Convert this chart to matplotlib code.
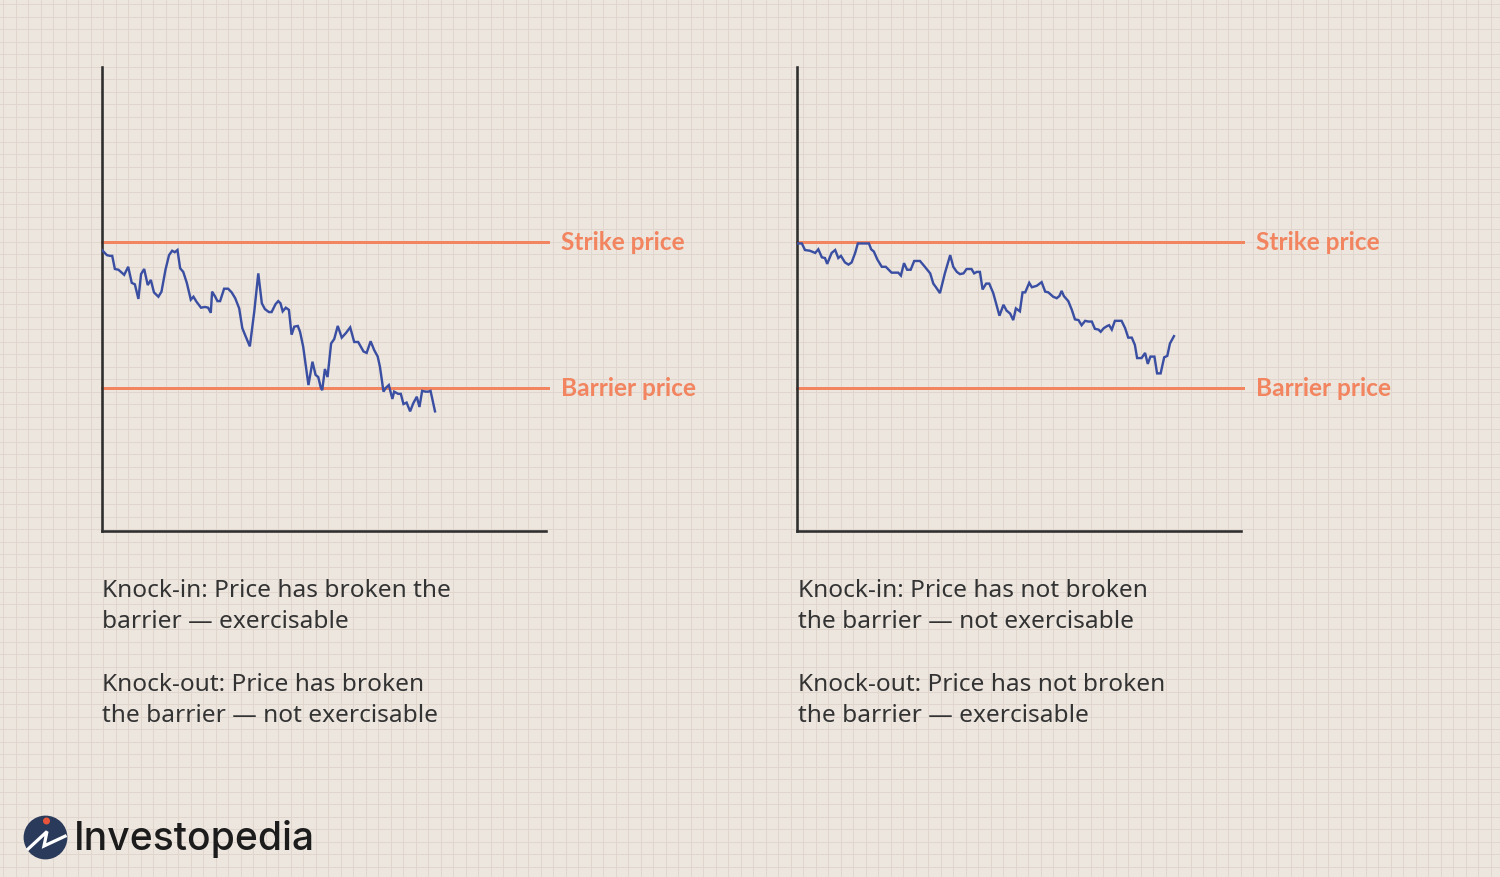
import matplotlib
matplotlib.use("Agg")
import matplotlib.pyplot as plt
from matplotlib.patches import Circle
import numpy as np

# ---------------- data ----------------
strike_price = 100.0
barrier_price = 80.0

left_t = [0, 1.1, 1.8, 2.3, 2.9, 3.7, 5.0, 5.9, 6.7, 7.4, 8.2, 8.8, 9.5, 10.3, 11.0, 11.7,
          12.7, 13.4, 14.3, 15.1, 15.8, 16.4, 17.0, 17.6, 18.3, 19.1, 20.0, 20.6, 21.3, 22.3,
          23.2, 23.9, 24.5, 24.8, 25.5, 26.0, 26.6, 27.5, 28.4, 29.2, 30.0, 30.9, 31.6, 32.4,
          33.3, 34.3, 35.2, 36.0, 36.7, 37.6, 38.2, 39.1, 39.7, 40.2, 40.7, 41.4, 42.1, 42.7,
          43.3, 44.1, 44.6, 45.3, 46.5, 47.4, 48.1, 48.7, 49.3, 49.6, 50.2, 50.8, 51.6, 52.3,
          53.1, 54.0, 54.9, 55.9, 56.8, 57.7, 58.9, 59.6, 60.5, 61.3, 62.1, 62.6, 63.4, 63.9,
          64.6, 65.4, 65.8, 66.7, 67.3, 67.9, 68.6, 69.4, 70.1, 70.9, 71.5, 72.1, 72.9, 73.5,
          74.0, 75.0]
left_price = [98.9, 98.2, 98.1, 98.1, 96.3, 96.2, 95.5, 96.6, 94.4, 94.2, 92.2, 95.6, 96.3,
              94.1, 94.8, 93.1, 92.5, 93.2, 96.2, 98.2, 98.8, 98.6, 98.9, 96.4, 95.9, 94.4,
              92.1, 92.5, 91.8, 91.0, 91.1, 91.0, 90.3, 93.2, 92.5, 91.9, 91.9, 93.6, 93.6,
              93.1, 92.3, 90.9, 88.2, 87.0, 85.7, 90.5, 95.7, 91.6, 90.8, 90.4, 90.4, 91.5,
              91.9, 91.6, 90.5, 91.0, 90.7, 87.3, 88.4, 88.5, 87.7, 85.7, 80.4, 83.6, 81.8,
              81.5, 80.0, 79.7, 82.6, 81.5, 86.1, 86.7, 88.5, 86.9, 87.5, 88.3, 86.3, 86.3,
              85.0, 84.8, 86.4, 85.2, 84.3, 82.9, 79.5, 80.0, 80.4, 78.5, 79.5, 79.2, 79.2,
              77.8, 78.0, 76.8, 77.9, 78.8, 77.4, 79.6, 79.5, 79.5, 79.6, 76.8]

right_t = [0, 1.1, 1.8, 2.9, 4.1, 4.8, 5.6, 6.3, 6.8, 7.8, 8.6, 9.3, 9.9, 10.8, 11.6, 12.3,
           13.1, 13.7, 16.2, 16.7, 17.3, 18.1, 19.1, 20.0, 21.3, 22.8, 23.4, 24.1, 24.8, 25.6,
           26.4, 27.7, 28.8, 30.0, 30.7, 31.3, 32.2, 33.3, 34.5, 35.2, 36.0, 36.7, 37.5, 38.2,
           39.3, 39.9, 40.5, 41.2, 41.8, 42.6, 43.3, 44.2, 45.6, 46.5, 47.2, 48.0, 48.7, 49.3,
           50.2, 50.8, 51.4, 52.3, 52.9, 54.0, 55.1, 55.9, 56.6, 57.7, 58.5, 59.1, 59.6, 60.1,
           61.1, 61.9, 62.6, 63.4, 64.1, 64.9, 65.6, 66.4, 67.1, 67.9, 68.4, 69.1, 69.9, 70.3,
           70.9, 71.6, 72.4, 73.1, 73.9, 74.6, 75.4, 76.1, 76.6, 77.6, 78.4, 79.0, 79.6, 80.5,
           81.1, 81.9, 82.7, 83.4, 84.0, 84.9]
right_price = [99.8, 99.8, 98.9, 98.8, 98.5, 99.0, 97.9, 97.8, 97.0, 98.5, 98.9, 97.8, 98.1,
               97.2, 96.9, 97.2, 98.5, 99.8, 99.8, 99.0, 98.7, 97.6, 96.6, 96.6, 95.8, 95.8,
               95.4, 97.1, 96.2, 96.2, 97.4, 97.4, 96.6, 95.7, 94.3, 93.8, 93.0, 95.7, 98.2,
               96.6, 95.9, 95.6, 95.7, 96.3, 96.3, 95.7, 95.9, 95.9, 93.5, 94.3, 94.3, 93.0,
               89.9, 91.4, 90.6, 90.2, 89.3, 90.9, 90.5, 93.1, 93.1, 94.4, 93.8, 94.0, 94.5,
               93.2, 93.1, 92.5, 92.3, 92.6, 93.3, 92.6, 91.9, 90.7, 89.4, 89.3, 88.6, 89.2,
               89.1, 89.1, 88.1, 88.0, 87.7, 88.2, 88.5, 88.6, 88.0, 89.2, 89.2, 89.2, 88.2,
               86.9, 86.9, 85.9, 84.1, 84.1, 84.8, 83.3, 84.3, 84.3, 82.0, 82.0, 84.2, 84.4,
               86.1, 87.1]

line_labels = ["Strike price", "Barrier price"]
left_text = ["Knock-in: Price has broken the", "barrier \u2014 exercisable", "",
             "Knock-out: Price has broken", "the barrier \u2014 not exercisable"]
right_text = ["Knock-in: Price has not broken", "the barrier \u2014 not exercisable", "",
              "Knock-out: Price has not broken", "the barrier \u2014 exercisable"]
brand = "Investopedia"

# ---------------- style ----------------
W, H = 1500, 877
BG = "#ECE6DF"
GRID = "#E0D6CD"
CORAL = "#F2845F"
BLUE = "#3A4EA2"
AXIS = "#2F2F2F"
TEXT = "#333333"
PX = 72 / 100  # points per pixel at dpi 100

fig = plt.figure(figsize=(W / 100, H / 100), dpi=100)
fig.patch.set_facecolor(BG)
renderer = fig.canvas.get_renderer()


def fit_size(text_obj, target_px, lo, hi):
    """Scale font size so the text's rendered width is target_px (bounded)."""
    w = text_obj.get_window_extent(renderer=renderer).width
    size = text_obj.get_fontsize() * target_px / w
    text_obj.set_fontsize(min(max(size, lo), hi))
    return text_obj.get_fontsize()


bg = fig.add_axes([0, 0, 1, 1], zorder=0)
bg.set_xlim(0, W)
bg.set_ylim(H, 0)
bg.axis("off")
bg.set_facecolor(BG)
step = 12.5
for gx in np.arange(3, W, step):
    bg.axvline(gx, color=GRID, lw=1.0 * PX, zorder=0)
for gy in np.arange(4, H, step):
    bg.axhline(gy, color=GRID, lw=1.0 * PX, zorder=0)

LABEL_FONT = dict(fontfamily="Lato", fontweight="bold")
BODY_FONT = dict(fontfamily="Noto Sans", fontweight="normal")

# size label font to match "Strike price" width (~128 px)
probe = bg.text(0, 0, line_labels[0], fontsize=16, **LABEL_FONT)
label_size = fit_size(probe, 127, 15, 17.6)
probe.remove()


def panel(left_px, t, price):
    ax = fig.add_axes([left_px / W, (H - 531) / H, 444 / W, 464 / H], zorder=2)
    ax.patch.set_alpha(0)
    ax.set_xlim(0, 100)
    ax.set_ylim(60.41, 123.97)
    for s in ["top", "right"]:
        ax.spines[s].set_visible(False)
    for s in ["left", "bottom"]:
        ax.spines[s].set_color(AXIS)
        ax.spines[s].set_linewidth(2.6 * PX)
    ax.set_xticks([])
    ax.set_yticks([])
    for val, lab in zip([strike_price, barrier_price], line_labels):
        ax.axhline(val, xmin=0, xmax=1.005, color=CORAL, lw=3.0 * PX, clip_on=False, zorder=2)
        ax.annotate(lab, xy=(1, val), xycoords=("axes fraction", "data"),
                    xytext=(15, -8.5), textcoords="offset pixels",
                    ha="left", va="baseline", color=CORAL, fontsize=label_size,
                    annotation_clip=False, **LABEL_FONT)
    ax.plot(t, price, color=BLUE, lw=2.4 * PX, zorder=3, solid_joinstyle="miter")
    return ax


panel(102, left_t, left_price)
panel(797, right_t, right_price)

probe = bg.text(0, 0, left_text[0], fontsize=16, **BODY_FONT)
body_size = fit_size(probe, 358, 15, 17.6)
probe.remove()

baselines = [597, 628.5, None, 691, 722.5]
for xs, lines in [(102, left_text), (798, right_text)]:
    for yb, s in zip(baselines, lines):
        if s:
            bg.text(xs, yb, s, ha="left", va="baseline", color=TEXT,
                    fontsize=body_size, **BODY_FONT)

# logo
bg.add_patch(Circle((45.5, 837.5), 21.2, color="#2A3A5A", zorder=3))
bg.plot([27, 47, 44, 66.5], [850, 831.5, 846, 835.5], color="white", lw=3.2 * PX,
        zorder=4, solid_capstyle="butt", solid_joinstyle="miter")
bg.add_patch(Circle((46.5, 821), 2.8, color="#E8553A", zorder=5))
logo = bg.text(74, 850, brand, ha="left", va="baseline", color="#1C1C1C",
               fontsize=30, fontfamily="Inter", fontweight="medium")
fit_size(logo, 241, 27, 33)

fig.savefig("out.png", dpi=100, facecolor=BG)
